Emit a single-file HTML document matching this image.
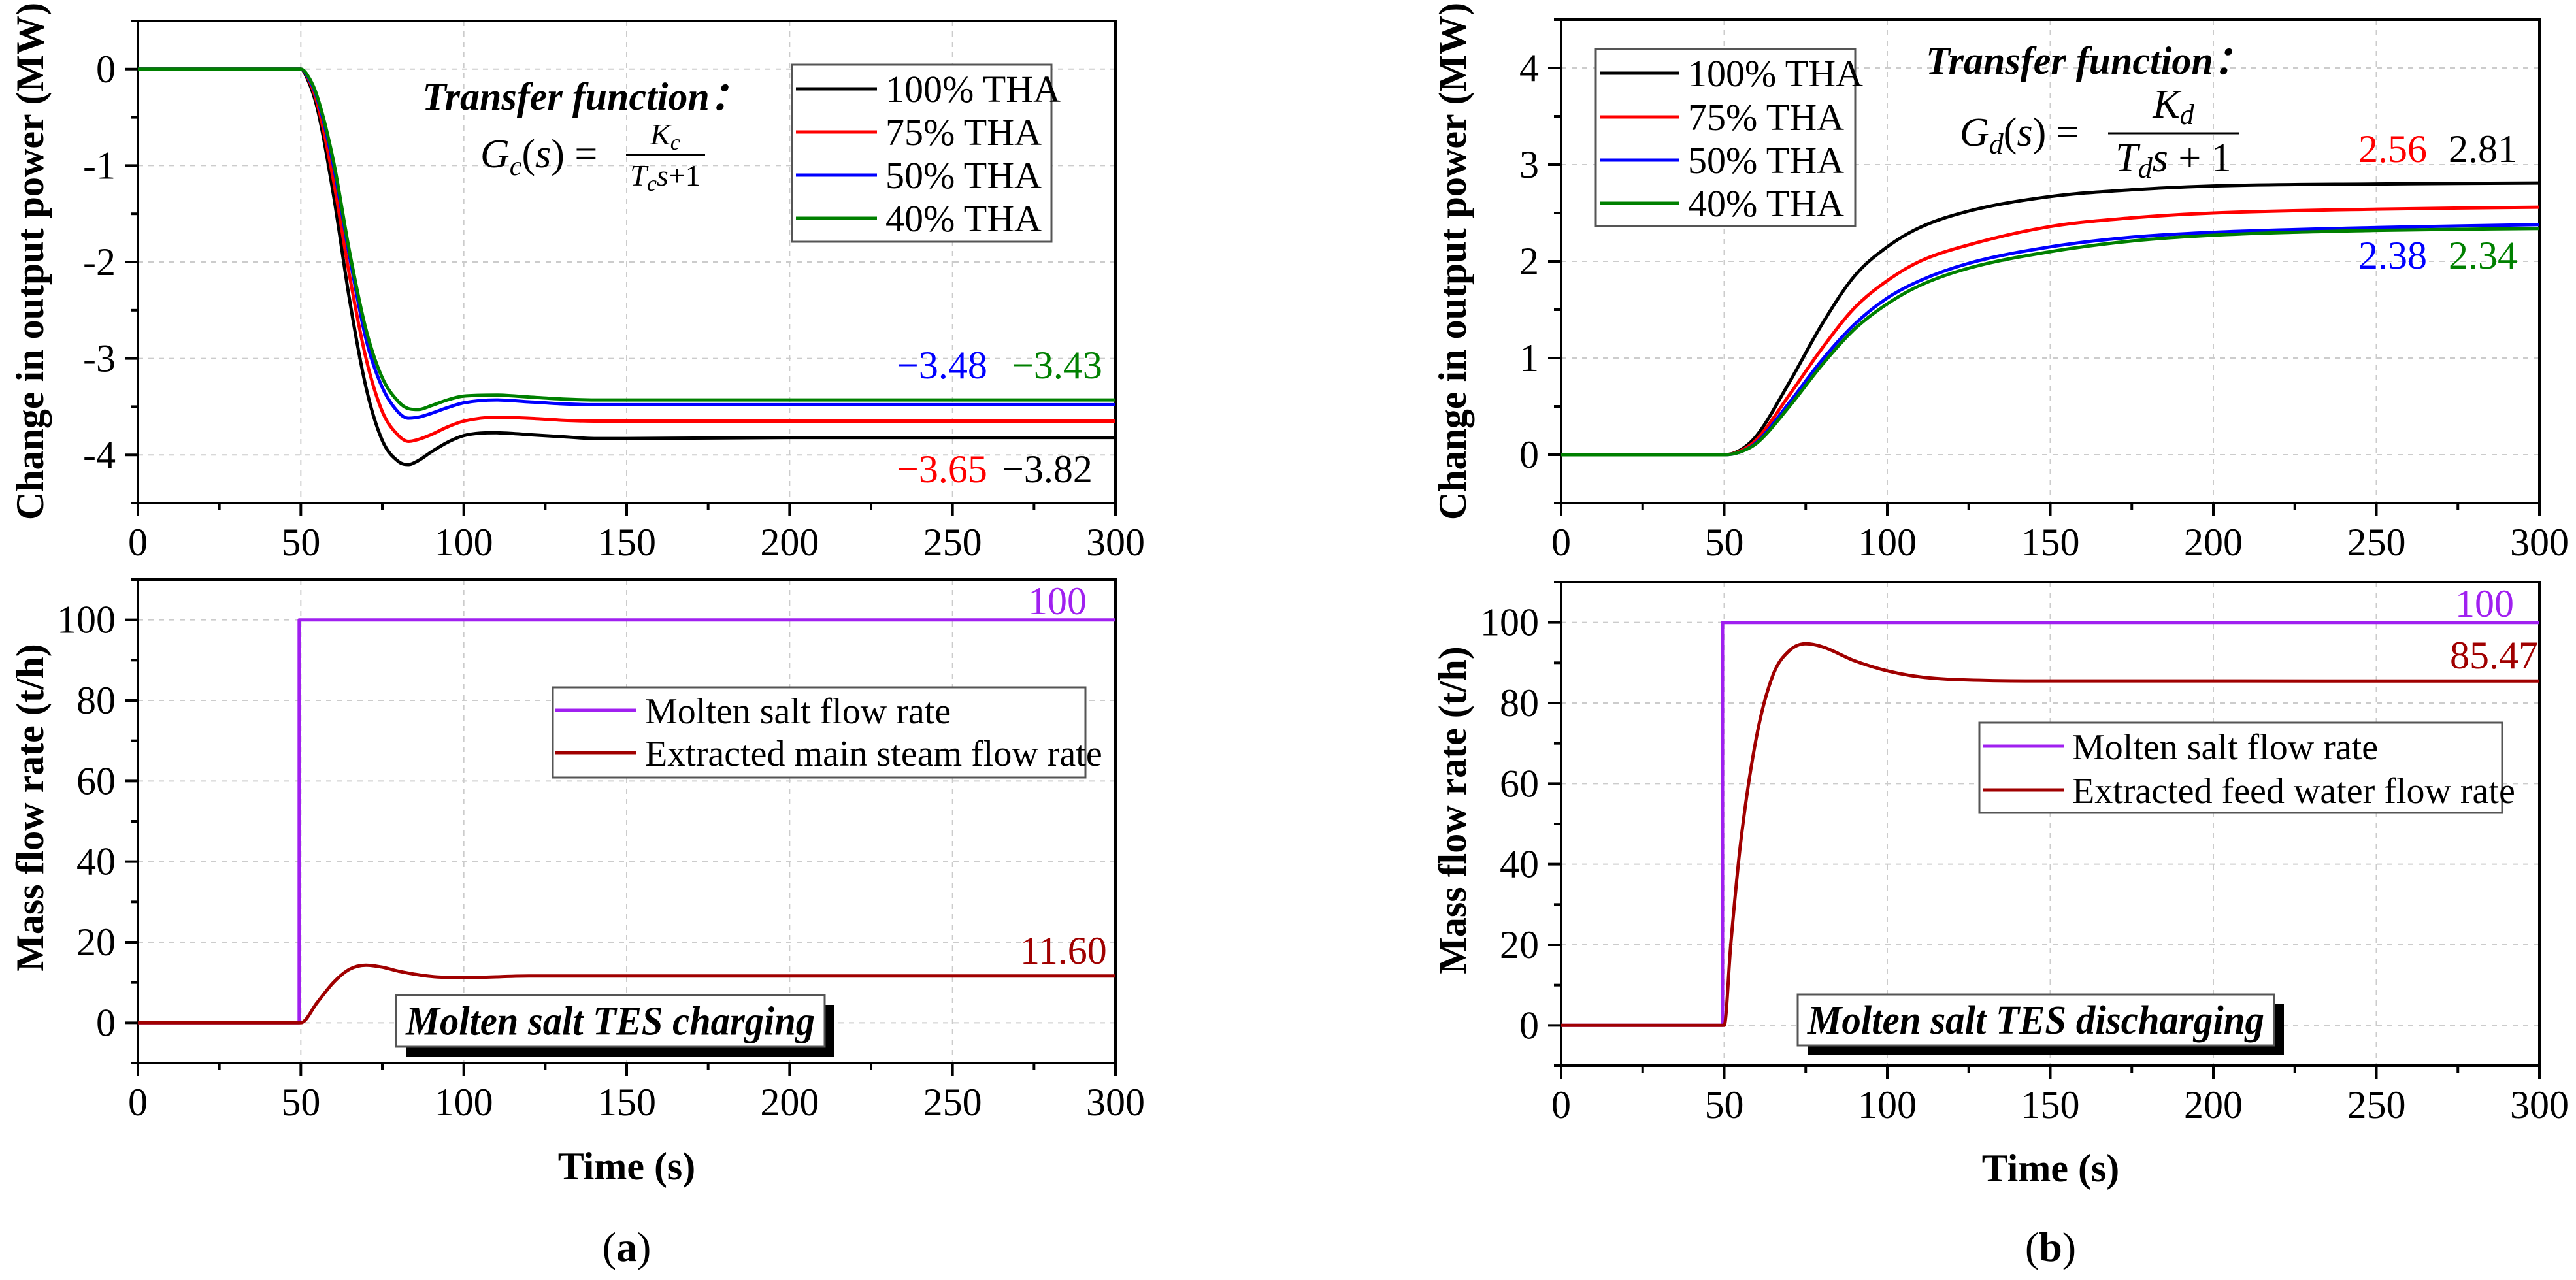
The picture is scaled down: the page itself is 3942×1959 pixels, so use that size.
<!DOCTYPE html>
<html><head><meta charset="utf-8"><style>
html,body{margin:0;padding:0;background:#fff;}
svg{display:block;font-family:"Liberation Serif",serif;}
</style></head><body>
<svg id="fig" width="3942" height="1959" viewBox="0 0 3942 1959" xmlns="http://www.w3.org/2000/svg"></svg>
<script>
// ---- data ----
const tA = [0,50,52,55,60,65,70,75,80,83,86,90,95,100,110,120,130,140,150,200,250,300];
const pA100 = [0,0,-0.1,-0.4,-1.3,-2.4,-3.3,-3.85,-4.07,-4.1,-4.06,-3.97,-3.87,-3.80,-3.77,-3.79,-3.81,-3.83,-3.83,-3.82,-3.82,-3.82];
const pA75  = [0,0,-0.08,-0.35,-1.15,-2.15,-3.0,-3.55,-3.8,-3.86,-3.84,-3.79,-3.71,-3.65,-3.61,-3.62,-3.64,-3.65,-3.65,-3.65,-3.65,-3.65];
const pA50  = [0,0,-0.07,-0.3,-1.0,-1.95,-2.8,-3.3,-3.56,-3.62,-3.61,-3.57,-3.51,-3.46,-3.43,-3.45,-3.47,-3.48,-3.48,-3.48,-3.48,-3.48];
const pA40  = [0,0,-0.06,-0.28,-0.95,-1.9,-2.7,-3.2,-3.45,-3.52,-3.53,-3.49,-3.43,-3.39,-3.38,-3.40,-3.42,-3.43,-3.43,-3.43,-3.43,-3.43];
const tB = [0,50,55,60,70,80,90,100,110,125,150,175,200,250,300];
const pB100 = [0,0,0.05,0.2,0.75,1.35,1.85,2.15,2.35,2.52,2.67,2.74,2.78,2.80,2.81];
const pB75  = [0,0,0.04,0.16,0.62,1.1,1.52,1.8,2.0,2.17,2.36,2.45,2.5,2.54,2.56];
const pB50  = [0,0,0.03,0.13,0.54,0.98,1.35,1.62,1.8,1.98,2.15,2.25,2.3,2.35,2.38];
const pB40  = [0,0,0.03,0.12,0.5,0.93,1.3,1.56,1.75,1.93,2.1,2.21,2.27,2.32,2.34];
const tSalt = [0,49.5,49.5,300];
const vSalt = [0,0,100,100];
const tSteam = [0,50,55,60,65,70,75,80,90,100,120,150,300];
const vSteam = [0,0,5,10,13.3,14.3,13.8,12.8,11.5,11.2,11.6,11.6,11.6];
const tFeed = [0,50,52,55,60,65,70,75,80,90,100,110,125,150,300];
const vFeed = [0,0,20,45,72,87,93,94.7,94,90.5,88,86.5,85.7,85.5,85.47];
const xTicks = [0,50,100,150,200,250,300];
const yTicksA = [0,-1,-2,-3,-4];
const yTicksB = [0,1,2,3,4];
const yTicksM = [0,20,40,60,80,100];
const thaLabels = ["100% THA","75% THA","50% THA","40% THA"];
const thaColors = ["#000","#f00","#00f","#008000"];

const NS="http://www.w3.org/2000/svg";
const svg=document.getElementById('fig');
function el(tag,attrs,parent,text){const e=document.createElementNS(NS,tag);for(const k in attrs)e.setAttribute(k,attrs[k]);if(text!==undefined)e.textContent=text;(parent||svg).appendChild(e);return e;}

function makeAxes(x0,x1,y0,y1,ymin,ymax,yt,yminorStep,name){
  const g=el('g',{});
  
  
  const sx=v=>x0+(v-0)/300*(x1-x0);
  const sy=v=>y1-(v-ymin)/(ymax-ymin)*(y1-y0);
  xTicks.forEach(v=>{if(v>0&&v<300){const l=el('line',{x1:sx(v),x2:sx(v),y1:y0,y2:y1,stroke:'#ccc','stroke-width':2,'stroke-dasharray':'8 8'},g);}});
  yt.forEach(v=>{const l=el('line',{x1:x0,x2:x1,y1:sy(v),y2:sy(v),stroke:'#ccc','stroke-width':2,'stroke-dasharray':'8 8'},g);});
  for(let v=0;v<=300;v+=25){const maj=v%50===0;el('line',{x1:sx(v),x2:sx(v),y1:y1,y2:y1+(maj?20:11),stroke:'#000','stroke-width':4},g);}
  xTicks.forEach(v=>{const t=el('text',{x:sx(v),y:y1+80,'text-anchor':'middle','font-size':60},g,String(v));});
  for(let v=ymin;v<=ymax+1e-9;v+=yminorStep){const maj=yt.some(a=>Math.abs(a-v)<1e-6);const yy=sy(v);el('line',{x1:x0-(maj?20:11),x2:x0,y1:yy,y2:yy,stroke:'#000','stroke-width':4},g);}
  yt.forEach(v=>{const t=el('text',{x:x0-34,y:sy(v)+20,'text-anchor':'end','font-size':60},g,String(v));});
  const fr=el('rect',{x:x0,y:y0,width:x1-x0,height:y1-y0,fill:'none',stroke:'#000','stroke-width':4},g);
  
  return {sx,sy,g};
}
function curvePath(ax,ts,vs,smooth){
  const p=ts.map((t,i)=>[ax.sx(t),ax.sy(vs[i])]);
  if(!smooth) return 'M'+p.map(q=>q[0].toFixed(1)+','+q[1].toFixed(1)).join('L');
  const n=p.length,d=[],m=[];
  for(let i=0;i<n-1;i++)d.push((p[i+1][1]-p[i][1])/(p[i+1][0]-p[i][0]));
  m[0]=d[0];m[n-1]=d[n-2];
  for(let i=1;i<n-1;i++){m[i]=(d[i-1]*d[i]<=0)?0:(d[i-1]+d[i])/2;}
  for(let i=0;i<n-1;i++){if(d[i]===0){m[i]=0;m[i+1]=0;continue;}const a=m[i]/d[i],b=m[i+1]/d[i],s=a*a+b*b;if(s>9){const t=3/Math.sqrt(s);m[i]=t*a*d[i];m[i+1]=t*b*d[i];}}
  let s='M'+p[0][0].toFixed(1)+','+p[0][1].toFixed(1);
  for(let i=0;i<n-1;i++){const h=(p[i+1][0]-p[i][0])/3;
    s+=' C'+(p[i][0]+h).toFixed(1)+','+(p[i][1]+m[i]*h).toFixed(1)+' '+(p[i+1][0]-h).toFixed(1)+','+(p[i+1][1]-m[i+1]*h).toFixed(1)+' '+p[i+1][0].toFixed(1)+','+p[i+1][1].toFixed(1);}
  return s;
}
function series(ax,ts,vs,color,name,smooth){
  const p=el('path',{d:curvePath(ax,ts,vs,smooth),fill:'none',stroke:color,'stroke-width':5,'stroke-linejoin':'round'});
  
  
  return p;
}
function txt(x,y,s,attrs,name){const t=el('text',Object.assign({x:x,y:y,'font-size':60},attrs||{}),svg,s);return t;}

const aT=makeAxes(211,1707,32,770,-4.5,0.5,yTicksA,0.5,'power-axes-a');
[pA100,pA75,pA50,pA40].forEach((arr,i)=>series(aT,tA,arr,thaColors[i],'power-line-'+i+'-a',true));
const aB=makeAxes(211,1707,887,1627,-10,110,yTicksM,10,'flow-axes-a');
series(aB,tSalt,vSalt,'#a020f0','salt-flow-line-a',false);
series(aB,tSteam,vSteam,'#a00000','steam-flow-line',true);
const bT=makeAxes(2389,3886,30,770,-0.5,4.5,yTicksB,0.5,'power-axes-b');
[pB100,pB75,pB50,pB40].forEach((arr,i)=>series(bT,tB,arr,thaColors[i],'power-line-'+i+'-b',true));
const bB=makeAxes(2389,3886,891,1631,-10,110,yTicksM,10,'flow-axes-b');
series(bB,tSalt,vSalt,'#a020f0','salt-flow-line-b',false);
series(bB,tFeed,vFeed,'#a00000','feed-flow-line',true);

function legend(x,y,w,h,rows,name,lineX,textX,rowY,fs){
  const r=el('rect',{x:x,y:y,width:w,height:h,fill:'#fff',stroke:'#555','stroke-width':3});
  
  rows.forEach((row,i)=>{
    const l=el('line',{x1:lineX[0],x2:lineX[1],y1:rowY[i],y2:rowY[i],stroke:row[1],'stroke-width':5});
    
    txt(textX,rowY[i]+20,row[0],{'font-size':fs},'legend-entry');
  });
}
legend(1212,99,397,271,thaLabels.map((s,i)=>[s,thaColors[i]]),'legend-tha-a',[1218,1342],1355,[136,202,268,334],58);
legend(2442,75,397,271,thaLabels.map((s,i)=>[s,thaColors[i]]),'legend-tha-b',[2449,2569],2583,[112,179,245,311],58);
legend(846,1052,815,138,[["Molten salt flow rate","#a020f0"],["Extracted main steam flow rate","#a00000"]],'legend-flow-a',[850,974],987,[1087,1152],56);
legend(3029,1106,800,138,[["Molten salt flow rate","#a020f0"],["Extracted feed water flow rate","#a00000"]],'legend-flow-b',[3035,3158],3171,[1142,1209],56);

txt(1372,579,"\u22123.48",{fill:'#00f'},'value-label-50-a');
txt(1548,579,"\u22123.43",{fill:'#008000'},'value-label-40-a');
txt(1372,738,"\u22123.65",{fill:'#f00'},'value-label-75-a');
txt(1533,738,"\u22123.82",{fill:'#000'},'value-label-100-a');
txt(1573,940,"100",{fill:'#a020f0'},'value-label-salt-a');
txt(1561,1475,"11.60",{fill:'#a00000'},'value-label-steam');
txt(3609,248,"2.56",{fill:'#f00'},'value-label-75-b');
txt(3747,248,"2.81",{fill:'#000'},'value-label-100-b');
txt(3609,411,"2.38",{fill:'#00f'},'value-label-50-b');
txt(3747,411,"2.34",{fill:'#008000'},'value-label-40-b');
txt(3757,944,"100",{fill:'#a020f0'},'value-label-salt-b');
txt(3749,1023,"85.47",{fill:'#a00000'},'value-label-feed');

txt(896,168,"Transfer function\uFF1A",{'font-size':60,'font-weight':'bold','font-style':'italic','text-anchor':'middle'},'transfer-function-title-a');
txt(735,256,"G",{'font-size':62},'transfer-function-a').innerHTML='<tspan font-style="italic">G</tspan><tspan font-size="42" dy="12" font-style="italic">c</tspan><tspan dy="-12">(</tspan><tspan font-style="italic">s</tspan><tspan>) =</tspan>';
txt(1018,221,"K",{'font-size':46,'text-anchor':'middle'},'transfer-numerator-a').innerHTML='<tspan font-style="italic">K</tspan><tspan font-size="34" dy="8" font-style="italic">c</tspan>';
el('line',{x1:958,x2:1079,y1:237,y2:237,stroke:'#000','stroke-width':3});
txt(1018,284,"Tcs+1",{'font-size':46,'text-anchor':'middle'},'transfer-denominator-a').innerHTML='<tspan font-style="italic">T</tspan><tspan font-size="34" dy="8" font-style="italic">c</tspan><tspan dy="-8" font-style="italic">s</tspan><tspan>+1</tspan>';

txt(3197,113,"Transfer function\uFF1A",{'font-size':60,'font-weight':'bold','font-style':'italic','text-anchor':'middle'},'transfer-function-title-b');
txt(2999,223,"G",{'font-size':62},'transfer-function-b').innerHTML='<tspan font-style="italic">G</tspan><tspan font-size="44" dy="12" font-style="italic">d</tspan><tspan dy="-12">(</tspan><tspan font-style="italic">s</tspan><tspan>) =</tspan>';
txt(3326,180,"K",{'font-size':62,'text-anchor':'middle'},'transfer-numerator-b').innerHTML='<tspan font-style="italic">K</tspan><tspan font-size="44" dy="10" font-style="italic">d</tspan>';
el('line',{x1:3226,x2:3427,y1:204,y2:204,stroke:'#000','stroke-width':3});
txt(3326,262,"Tds+1",{'font-size':62,'text-anchor':'middle'},'transfer-denominator-b').innerHTML='<tspan font-style="italic">T</tspan><tspan font-size="44" dy="10" font-style="italic">d</tspan><tspan dy="-10" font-style="italic">s</tspan><tspan> + 1</tspan>';

function modeBox(x,y,w,h,s,name){
  el('rect',{x:x+15,y:y+15,width:w,height:h,fill:'#000'});
  const r=el('rect',{x:x,y:y,width:w,height:h,fill:'#fff',stroke:'#555','stroke-width':3});
  
  txt(x+w/2,y+h/2+21,s,{'font-size':62,'font-weight':'bold','font-style':'italic','text-anchor':'middle','textLength':w-30,'lengthAdjust':'spacingAndGlyphs'},name);
}
modeBox(606,1523,656,79,"Molten salt TES charging",'charging-label');
modeBox(2751,1522,729,78,"Molten salt TES discharging",'discharging-label');

function ytitle(cx,cy,s,name){txt(0,0,s,{'font-size':60,'font-weight':'bold','text-anchor':'middle',transform:`translate(${cx},${cy}) rotate(-90)`},name);}
ytitle(66,400,"Change in output power (MW)",'y-axis-title-power-a');
ytitle(66,1236,"Mass flow rate (t/h)",'y-axis-title-flow-a');
ytitle(2243,400,"Change in output power (MW)",'y-axis-title-power-b');
ytitle(2243,1240,"Mass flow rate (t/h)",'y-axis-title-flow-b');
txt(959,1805,"Time (s)",{'font-size':60,'font-weight':'bold','text-anchor':'middle'},'x-axis-title-a');
txt(3138,1808,"Time (s)",{'font-size':60,'font-weight':'bold','text-anchor':'middle'},'x-axis-title-b');
txt(959,1930,"(a)",{'font-size':64,'text-anchor':'middle'},'panel-label-a').innerHTML='(<tspan font-weight="bold">a</tspan>)';
txt(3138,1930,"(b)",{'font-size':64,'text-anchor':'middle'},'panel-label-b').innerHTML='(<tspan font-weight="bold">b</tspan>)';
</script>
</body></html>
